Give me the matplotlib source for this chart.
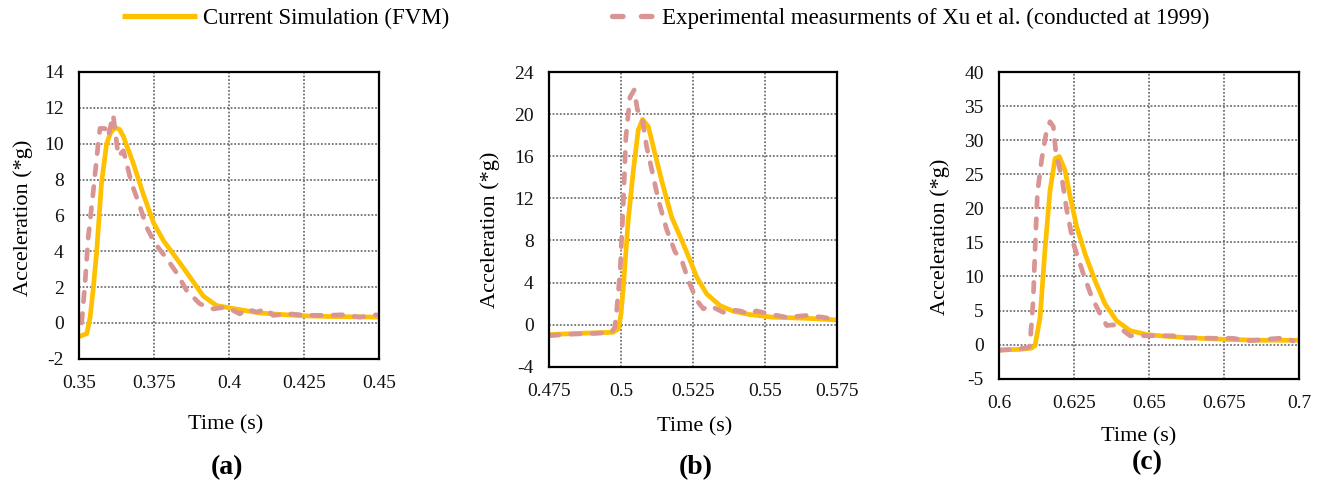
import matplotlib
matplotlib.use("Agg")
import matplotlib.pyplot as plt
from matplotlib.lines import Line2D

plt.rcParams['font.family'] = ['Liberation Serif', 'DejaVu Serif']
plt.rcParams['axes.unicode_minus'] = False

FVM_COLOR = '#FFC000'
EXP_COLOR = '#D99594'

# ---- Case (a) ----
t_fvm_a = [0.3500, 0.3526, 0.3537, 0.3548, 0.3559, 0.3575, 0.3592, 0.3605, 0.3620,
           0.3635, 0.3648, 0.3681, 0.3714, 0.3748, 0.3781, 0.3825, 0.3870, 0.3914,
           0.3958, 0.4014, 0.4103, 0.4236, 0.4347, 0.4500]
a_fvm_a = [-0.77, -0.60, 0.30, 2.0, 4.0, 7.8, 10.0, 10.6, 10.9,
           10.8, 10.4, 8.9, 7.2, 5.6, 4.6, 3.6, 2.55, 1.5,
           0.97, 0.80, 0.55, 0.40, 0.35, 0.32]
t_exp_a = [0.3509, 0.3520, 0.3531, 0.3548, 0.3564, 0.3570, 0.3586, 0.3597, 0.3614,
           0.3631, 0.3648, 0.3675, 0.3703, 0.3725, 0.3742, 0.3764, 0.3792, 0.3825,
           0.3859, 0.3903, 0.3947, 0.3992, 0.4036, 0.4058, 0.4092, 0.4125, 0.4147,
           0.4203, 0.4258, 0.4324, 0.4380, 0.4436, 0.4491]
a_exp_a = [0.0, 2.2, 4.8, 7.4, 10.0, 10.85, 10.85, 10.4, 11.6,
           9.3, 9.6, 7.8, 6.5, 5.35, 4.8, 4.2, 3.6, 2.8,
           1.8, 1.06, 0.78, 0.88, 0.5, 0.78, 0.6, 0.78, 0.42,
           0.5, 0.42, 0.42, 0.45, 0.32, 0.45]

# ---- Case (b) ----
t_fvm_b = [0.4750, 0.4856, 0.4972, 0.4991, 0.5000, 0.5008, 0.5025, 0.5043, 0.5060,
           0.5075, 0.5095, 0.5112, 0.5141, 0.5176, 0.5211, 0.5240, 0.5263, 0.5298,
           0.5344, 0.5390, 0.5448, 0.5528, 0.5643, 0.5750]
a_fvm_b = [-0.95, -0.83, -0.73, -0.41, 1.0, 3.55, 9.9, 14.7, 18.5,
           19.5, 18.8, 16.9, 13.7, 10.2, 8.0, 6.1, 4.5, 2.9,
           1.8, 1.27, 0.95, 0.70, 0.60, 0.44]
t_exp_b = [0.4752, 0.4833, 0.4914, 0.4966, 0.4978, 0.4985, 0.4997, 0.5008, 0.5017,
           0.5031, 0.5046, 0.5057, 0.5072, 0.5089, 0.5107, 0.5130, 0.5159, 0.5188,
           0.5211, 0.5234, 0.5263, 0.5286, 0.5309, 0.5355, 0.5384, 0.5413, 0.5447,
           0.5470, 0.5516, 0.5574, 0.5643, 0.5701, 0.5748]
a_exp_b = [-1.05, -0.9, -0.83, -0.73, -0.3, 1.33, 5.1, 11.5, 17.8,
           21.6, 22.3, 20.4, 19.9, 16.9, 14.7, 11.8, 9.0, 6.9,
           6.1, 4.2, 2.3, 1.5, 1.8, 1.17, 1.4, 1.3, 1.0,
           1.3, 1.0, 0.7, 0.86, 0.7, 0.44]

# ---- Case (c) ----
t_fvm_c = [0.6000, 0.6070, 0.6109, 0.6120, 0.6137, 0.6153, 0.6170, 0.6187, 0.6201,
           0.6220, 0.6237, 0.6259, 0.6287, 0.6320, 0.6353, 0.6392, 0.6437, 0.6492,
           0.6570, 0.6670, 0.6770, 0.6881, 0.7000]
a_fvm_c = [-0.78, -0.7, -0.5, -0.15, 4.0, 13.8, 22.6, 27.3, 27.6,
           25.6, 21.7, 17.3, 13.3, 9.4, 6.0, 3.5, 2.06, 1.47,
           1.18, 0.93, 0.74, 0.64, 0.64]
t_exp_c = [0.6003, 0.6070, 0.6098, 0.6103, 0.6114, 0.6120, 0.6128, 0.6142, 0.6157,
           0.6170, 0.6181, 0.6190, 0.6209, 0.6226, 0.6248, 0.6281, 0.6309, 0.6337,
           0.6359, 0.6381, 0.6414, 0.6437, 0.6492, 0.6536, 0.6581, 0.6603, 0.6659,
           0.6714, 0.6781, 0.6826, 0.6892, 0.6953, 0.6981]
a_exp_c = [-0.83, -0.6, -0.44, -0.15, 6.5, 13.8, 22.2, 27.1, 31.0,
           32.7, 32.0, 28.0, 24.6, 19.7, 14.8, 10.4, 7.0, 4.5,
           2.8, 2.9, 2.06, 1.3, 1.3, 1.3, 1.3, 0.93, 1.0,
           0.93, 0.93, 0.54, 0.78, 1.0, 0.54]

panels = [
    dict(tf=t_fvm_a, af=a_fvm_a, te=t_exp_a, ae=a_exp_a,
         xlim=(0.35, 0.45), xticks=[0.35, 0.375, 0.4, 0.425, 0.45],
         xticklabels=['0.35', '0.375', '0.4', '0.425', '0.45'],
         ylim=(-2, 14), yticks=list(range(-2, 15, 2)),
         rect=(79, 72, 379, 358.7), ylab=(-0.153, 0.493), xlab=(0.489, -0.196),
         tag='(a)', tag_xy=(227, 468)),
    dict(tf=t_fvm_b, af=a_fvm_b, te=t_exp_b, ae=a_exp_b,
         xlim=(0.475, 0.575), xticks=[0.475, 0.5, 0.525, 0.55, 0.575],
         xticklabels=['0.475', '0.5', '0.525', '0.55', '0.575'],
         ylim=(-4, 24), yticks=list(range(-4, 25, 4)),
         rect=(549, 72, 837, 366.7), ylab=(-0.170, 0.466), xlab=(0.507, -0.170),
         tag='(b)', tag_xy=(696, 468)),
    dict(tf=t_fvm_c, af=a_fvm_c, te=t_exp_c, ae=a_exp_c,
         xlim=(0.6, 0.7), xticks=[0.6, 0.625, 0.65, 0.675, 0.7],
         xticklabels=['0.6', '0.625', '0.65', '0.675', '0.7'],
         ylim=(-5, 40), yticks=list(range(-5, 41, 5)),
         rect=(999, 72, 1299, 378.7), ylab=(-0.163, 0.461), xlab=(0.467, -0.157),
         tag='(c)', tag_xy=(1147, 463)),
]

W, H = 1320, 484
fig = plt.figure(figsize=(W / 100, H / 100), dpi=100)

LW = 3.4
dash_pattern = (2.0, 2.5)

for p in panels:
    x0, y0, x1, y1 = p['rect']
    ax = fig.add_axes([x0 / W, 1 - y1 / H, (x1 - x0) / W, (y1 - y0) / H])
    ax.plot(p['tf'], p['af'], color=FVM_COLOR, lw=LW, solid_joinstyle='round',
            solid_capstyle='round', zorder=3)
    ax.plot(p['te'], p['ae'], color=EXP_COLOR, lw=LW, dashes=dash_pattern,
            dash_capstyle='round', dash_joinstyle='round', zorder=4)
    ax.set_xlim(*p['xlim'])
    ax.set_ylim(*p['ylim'])
    ax.set_xticks(p['xticks'])
    ax.set_xticklabels(p['xticklabels'])
    ax.set_yticks(p['yticks'])
    ax.grid(True, color='#737373', linestyle=(0, (1.0, 1.0)), lw=1.3, zorder=1)
    ax.tick_params(axis='both', length=0, labelsize=14, colors='#111111')
    ax.tick_params(axis='x', pad=11.5)
    ax.tick_params(axis='y', pad=11)
    for s in ax.spines.values():
        s.set_color('black')
        s.set_linewidth(1.6)
        s.set_zorder(5)
    ax.set_ylabel('Acceleration (*g)', fontsize=16)
    ax.yaxis.set_label_coords(*p['ylab'])
    ax.set_xlabel('Time (s)', fontsize=16, va='top')
    ax.xaxis.set_label_coords(*p['xlab'])
    fig.text(p['tag_xy'][0] / W, 1 - p['tag_xy'][1] / H, p['tag'],
             fontsize=20, fontweight='bold', ha='center', va='center')

# Legend: one entry per series, each with its own key length
LEG_FS = 16.5
fig.legend(
    [Line2D([], [], color=FVM_COLOR, lw=3.8, solid_capstyle='butt')],
    ['Current Simulation (FVM)'],
    loc='center left', bbox_to_anchor=(122 / W, 1 - 18 / H),
    frameon=False, fontsize=LEG_FS, handlelength=3.27, handletextpad=0.26,
    borderpad=0, borderaxespad=0)
fig.legend(
    [Line2D([], [], color=EXP_COLOR, lw=3.8, dashes=(2.0, 3.47),
            dash_capstyle='round')],
    ['Experimental measurments of Xu et al. (conducted at 1999)'],
    loc='center left', bbox_to_anchor=(612 / W, 1 - 18 / H),
    frameon=False, fontsize=LEG_FS, handlelength=1.75, handletextpad=0.44,
    borderpad=0, borderaxespad=0)

fig.savefig('out.png', dpi=100)
